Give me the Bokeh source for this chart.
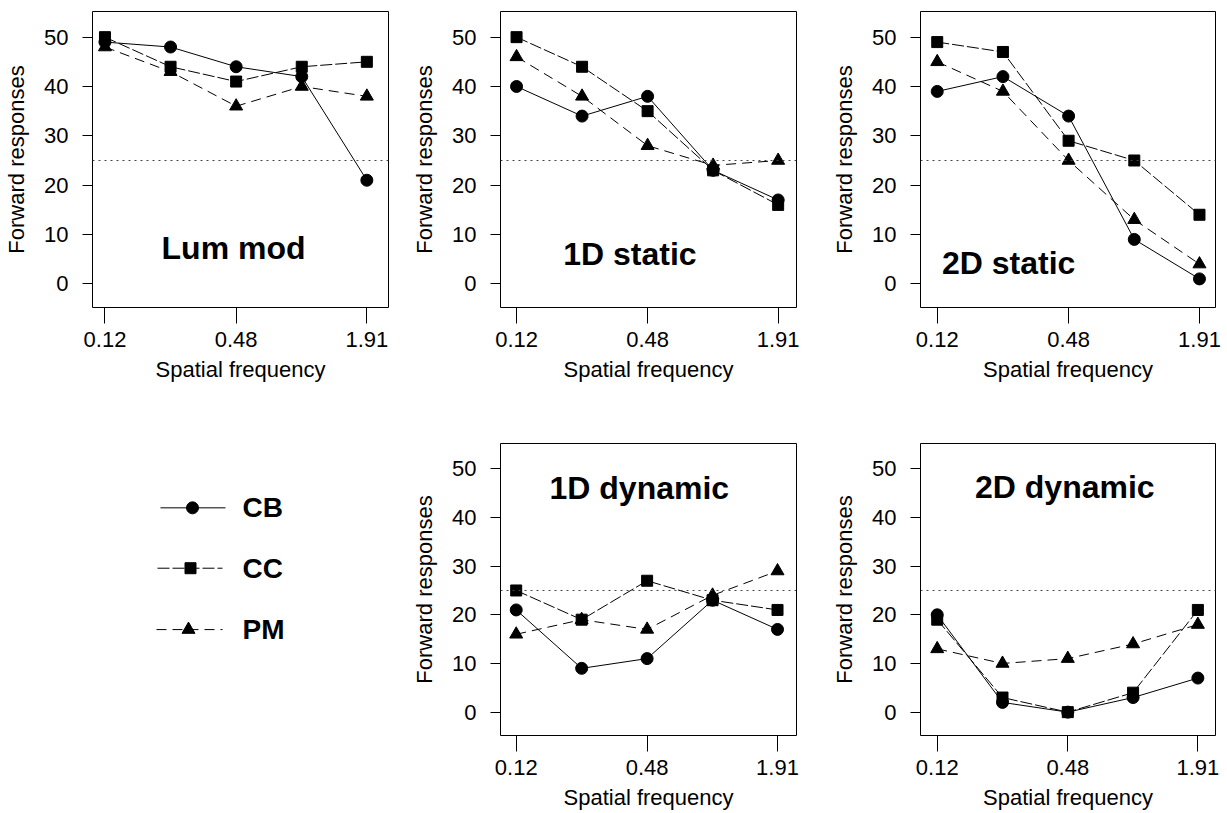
from bokeh.plotting import figure
from bokeh.layouts import column, row
from bokeh.models import Range1d, FixedTicker, CustomJSTickFormatter, Span, Label
from bokeh.embed import file_html
from bokeh.resources import INLINE
from bokeh.core.properties import value

# ---------------- data ----------------
freqs = [0.12, 0.24, 0.48, 0.96, 1.91]
tick_freqs = [0.12, 0.48, 1.91]
y_ticks = [0, 10, 20, 30, 40, 50]
series_names = ["CB", "CC", "PM"]
conditions = ["Lum mod", "1D static", "2D static", "1D dynamic", "2D dynamic"]

lum_cb = [49, 48, 44, 42, 21]
lum_cc = [50, 44, 41, 44, 45]
lum_pm = [48, 43, 36, 40, 38]

s1d_cb = [40, 34, 38, 23, 17]
s1d_cc = [50, 44, 35, 23, 16]
s1d_pm = [46, 38, 28, 24, 25]

s2d_cb = [39, 42, 34, 9, 1]
s2d_cc = [49, 47, 29, 25, 14]
s2d_pm = [45, 39, 25, 13, 4]

d1d_cb = [21, 9, 11, 23, 17]
d1d_cc = [25, 19, 27, 23, 21]
d1d_pm = [16, 19, 17, 24, 29]

d2d_cb = [20, 2, 0, 3, 7]
d2d_cc = [19, 3, 0, 4, 21]
d2d_pm = [13, 10, 11, 14, 18]

chance_level = 25

panel_data = [
    [lum_cb, lum_cc, lum_pm],
    [s1d_cb, s1d_cc, s1d_pm],
    [s2d_cb, s2d_cc, s2d_pm],
    [d1d_cb, d1d_cc, d1d_pm],
    [d2d_cb, d2d_cc, d2d_pm],
]

# ---------------- styling ----------------
FONT = "Liberation Sans"
TICK_FS = "22px"
styles = {
    "CB": dict(marker="circle", size=12, dash="solid"),
    "CC": dict(marker="square", size=11, dash="12 3"),
    "PM": dict(marker="triangle", size=13, dash="10 6"),
}

ROW1_H, ROW2_H = 400, 412
ROW1_TOP, ROW1_FRAME = 11, 296
ROW2_TOP, ROW2_FRAME = 43, 295

geom = [
    dict(w=400, l=92, r=12, row=1, padl=0.19, padr=0.33, lx=0.467, ly=7.2),
    dict(w=410, l=100, r=14, row=1, padl=0.245, padr=0.28, lx=0.398, ly=6.1),
    dict(w=412, l=110, r=7, row=1, padl=0.255, padr=0.244, lx=0.255, ly=4.2),
    dict(w=410, l=100, r=14, row=2, padl=0.24, padr=0.29, lx=0.442, ly=46.1),
    dict(w=412, l=110, r=7, row=2, padl=0.256, padr=0.27, lx=0.465, ly=46.3),
]


def borders(rownum):
    if rownum == 1:
        return ROW1_H, ROW1_TOP, ROW1_H - ROW1_TOP - ROW1_FRAME
    return ROW2_H, ROW2_TOP, ROW2_H - ROW2_TOP - ROW2_FRAME


def make_panel(i):
    g = geom[i]
    h, t, b = borders(g["row"])
    x0 = freqs[0] * 2 ** (-g["padl"])
    x1 = freqs[-1] * 2 ** (g["padr"])
    p = figure(width=g["w"], height=h, x_axis_type="log",
               x_range=Range1d(x0, x1), y_range=Range1d(-4.8, 55.2),
               output_backend="svg", toolbar_location=None,
               min_border_left=g["l"], min_border_right=g["r"],
               min_border_top=t, min_border_bottom=b)
    p.grid.visible = False
    p.outline_line_color = "black"
    p.outline_line_width = 1
    p.background_fill_color = "white"

    p.xaxis.ticker = FixedTicker(ticks=tick_freqs)
    p.xaxis.formatter = CustomJSTickFormatter(code="return tick.toFixed(2);")
    p.yaxis.ticker = FixedTicker(ticks=y_ticks)
    for ax in (p.xaxis, p.yaxis):
        ax.axis_line_color = None
        ax.minor_tick_line_color = None
        ax.major_tick_in = 0
        ax.major_tick_line_color = "black"
        ax.major_label_text_font = FONT
        ax.major_label_text_font_size = TICK_FS
        ax.major_label_text_color = "black"
        ax.axis_label_text_font = FONT
        ax.axis_label_text_font_size = TICK_FS
        ax.axis_label_text_font_style = "normal"
        ax.axis_label_text_color = "black"
    p.xaxis.major_tick_out = 16
    p.xaxis.major_label_standoff = 8
    p.xaxis.axis_label_standoff = 7
    p.yaxis.major_tick_out = 10
    p.yaxis.major_label_standoff = 14
    p.yaxis.axis_label_standoff = 12
    p.xaxis.axis_label = "Spatial frequency"
    p.yaxis.axis_label = "Forward responses"

    p.add_layout(Span(location=chance_level, dimension="width", line_color="#444444",
                      line_width=1, line_dash="dotted"))

    for name, ys in zip(series_names, panel_data[i]):
        st = styles[name]
        p.line(freqs, ys, line_color="black", line_width=1, line_dash=st["dash"])
    for name, ys in zip(series_names, panel_data[i]):
        st = styles[name]
        p.scatter(freqs, ys, marker=st["marker"], size=st["size"],
                  fill_color="black", line_color="black")

    p.add_layout(Label(x=g["lx"], y=g["ly"], text=conditions[i], text_align="center",
                       text_baseline="middle", text_font=FONT, text_font_size="32px",
                       text_font_style="bold", text_color="black"))
    return p


panels = [make_panel(i) for i in range(5)]

# ---------------- legend panel (same frame as panel 1, mapped to page pixels) ----------------
h2, t2, b2 = borders(2)
L_LEFT, L_RIGHT = 92, 12
leg = figure(width=400, height=h2,
             x_range=Range1d(L_LEFT, 400 - L_RIGHT),
             y_range=Range1d(ROW1_H + t2 + ROW2_FRAME, ROW1_H + t2),
             output_backend="svg", toolbar_location=None,
             x_axis_location=None, y_axis_location=None,
             min_border_left=L_LEFT, min_border_right=L_RIGHT,
             min_border_top=t2, min_border_bottom=b2)
leg.grid.visible = False
leg.outline_line_color = None

leg_rows = [508, 569, 631]
leg_line_x = [(160, 225), (157, 222), (156, 222)]
leg_marker_x = [192, 190, 188]
for name, yy, (lx0, lx1), mx in zip(series_names, leg_rows, leg_line_x, leg_marker_x):
    st = styles[name]
    leg.line([lx0, lx1], [yy, yy], line_color="black", line_width=1, line_dash=st["dash"])
    leg.scatter([mx], [yy], marker=st["marker"], size=st["size"],
                fill_color="black", line_color="black")
    leg.text([242], [yy], text=[name], text_font=value(FONT), text_font_size="28px",
             text_font_style="bold", text_baseline="middle", text_align="left",
             text_color="black")

layout = column(row(panels[0], panels[1], panels[2]),
                row(leg, panels[3], panels[4]))

open("out.html", "w").write(file_html(layout, INLINE))
